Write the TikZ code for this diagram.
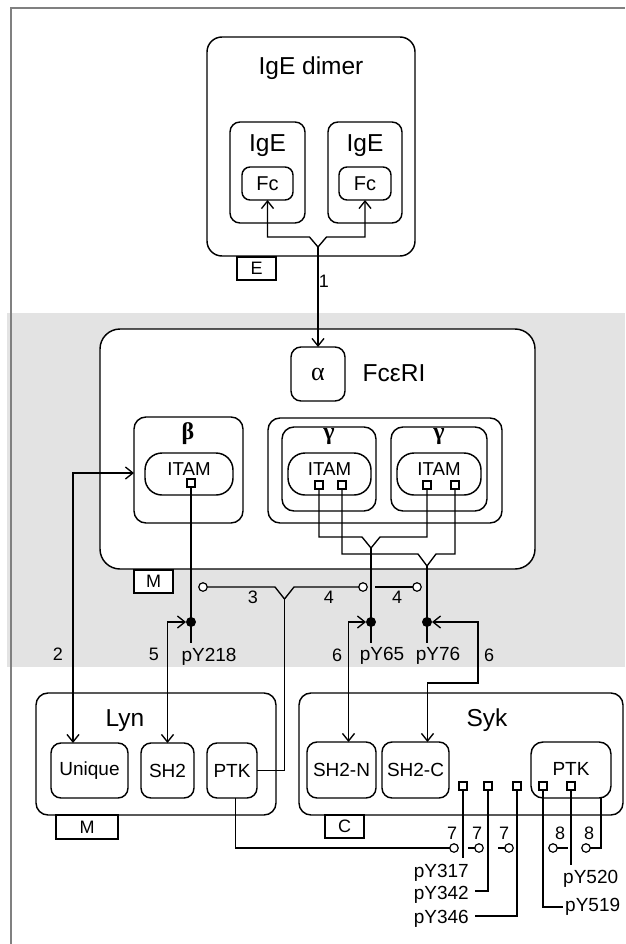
\documentclass[tikz,border=0pt]{standalone}
\usepackage{fontspec}
\setmainfont{Liberation Sans}
\newfontfamily\serifgr{Liberation Serif}
\usetikzlibrary{arrows.meta}
\newcommand\fs[1]{\fontsize{#1}{#1}\selectfont}
\newcommand\bx[7]{\node[box, rounded corners=#6, minimum width={#4pt-#2pt}, minimum height={#5pt-#3pt}] (#1) at ({(#2+#4)/2},{(#3+#5)/2}) {#7};}
\begin{document}
\begin{tikzpicture}[x=1pt,y=-1pt,
  box/.style={draw, line width=1.45pt, fill=white, inner sep=0pt, outer sep=0pt, font=\fs{19}},
  tag/.style={draw, line width=1.3pt, fill=white, inner sep=0pt, outer sep=0pt, font=\fs{18}},
  site/.style={draw, line width=1.2pt, fill=white, inner sep=0pt, outer sep=0pt, minimum size=8pt},
  ring/.style={circle, draw, line width=1.2pt, fill=white, inner sep=0pt, outer sep=0pt, minimum size=8.5pt},
  dot/.style={circle, fill=black, inner sep=0pt, outer sep=0pt, minimum size=10pt},
  wire/.style={line width=1.35pt},
  arr/.style={wire, -{Straight Barb[length=7.5pt,width=12pt]}},
  darr/.style={wire, {Straight Barb[length=7.5pt,width=12pt]}-{Straight Barb[length=7.5pt,width=12pt]}},
  lbl/.style={inner sep=0pt, font=\fs{19}, anchor=base},
  num/.style={inner sep=0pt, font=\fs{18}, anchor=base},
  ttl/.style={inner sep=0pt, font=\fs{24.5}, anchor=base},
  grk/.style={inner sep=0pt, font=\serifgr\bfseries\fs{24}, anchor=base},
  itam/.style={inner sep=0pt, font=\fs{18.7}, anchor=base},
  fcbox/.style={box, font=\fs{20}},
]
\useasboundingbox (0,0) rectangle (625,944);
\fill[black!11] (7,313) rectangle (625,667);
\draw[line width=2pt, black!50] (11,944) -- (11,7.7) -- (625,7.7);

% IgE dimer
\bx{dimer}{207}{37}{415}{256}{15pt}{}
\node[ttl] (tdimer) at (311,75) {IgE dimer};
\bx{igeL}{230}{122}{305}{223}{10pt}{}
\bx{igeR}{328}{122}{402}{223}{10pt}{}
\node[ttl] (tigeL) at (267.5,152) {IgE};
\node[ttl] (tigeR) at (365,152) {IgE};
\node[fcbox, rounded corners=8pt, minimum width=51pt, minimum height=33pt] (fcL) at (267.5,183.5) {Fc};
\node[fcbox, rounded corners=8pt, minimum width=52pt, minimum height=33pt] (fcR) at (365,183.5) {Fc};
\node[tag, minimum width=39pt, minimum height=23pt] (tagE) at (256.5,268.5) {E};

% FceRI
\bx{fce}{100}{329}{535}{569}{20pt}{}
\bx{alpha}{291}{347}{345}{401}{10pt}{}
\node[inner sep=0pt, anchor=base, font=\serifgr\fs{26}] (talpha) at (318,380) {α};
\node[ttl] (tfce) at (394,381) {FcεRI};
\bx{beta}{134}{417}{243}{523}{12pt}{}
\node[grk] (tbeta) at (188,439) {β};
\bx{bitam}{145}{453}{233}{495}{17pt}{}
\node[itam] (tbitam) at (189,475) {ITAM};
\node[site] (b1) at (191,483) {};
\bx{gam}{268}{418}{502}{523}{12pt}{}
\bx{gamA}{282}{427}{376}{511}{12pt}{}
\bx{gamB}{391}{427}{487}{511}{12pt}{}
\node[grk] (tgA) at (329,439) {γ};
\node[grk] (tgB) at (439,439) {γ};
\bx{gitamA}{288}{453}{371}{495}{17pt}{}
\bx{gitamB}{397}{453}{481}{495}{17pt}{}
\node[itam] (tgitamA) at (329.5,475) {ITAM};
\node[itam] (tgitamB) at (439,475) {ITAM};
\node[site] (g1a) at (319,485) {};
\node[site] (g1b) at (342,485) {};
\node[site] (g2a) at (427,485) {};
\node[site] (g2b) at (455,485) {};
\node[tag, minimum width=39pt, minimum height=23pt] (tagM1) at (153.5,581.5) {M};

% phospho sites and rings
\node[dot] (d218) at (191,622) {};
\node[dot] (d65) at (371,622) {};
\node[dot] (d76) at (427,622) {};
\node[ring] (r3) at (203,587) {};
\node[ring] (r4a) at (363,587) {};
\node[ring] (r4b) at (417,587) {};

% Lyn
\bx{lyn}{36}{693}{276}{815}{12pt}{}
\node[ttl] (tlyn) at (125,726) {Lyn};
\bx{uniq}{51}{743}{128}{798}{10pt}{Unique}
\bx{lsh2}{141}{743}{194}{798}{10pt}{SH2}
\bx{lptk}{207}{743}{257}{798}{10pt}{PTK}
\node[tag, minimum width=62pt, minimum height=24pt] (tagM2) at (87,827) {M};

% Syk
\bx{syk}{299}{693}{623}{815}{12pt}{}
\node[ttl] (tsyk) at (487,726) {Syk};
\bx{sh2n}{307}{742}{376}{798}{10pt}{SH2-N}
\bx{sh2c}{382}{742}{449}{798}{10pt}{SH2-C}
\bx{sptk}{531}{742}{611}{798}{12pt}{}
\node[inner sep=0pt, font=\fs{19}, anchor=base] (tsptk) at (571,775) {PTK};
\node[site] (q317) at (463,786) {};
\node[site] (q342) at (488,786) {};
\node[site] (q346) at (517,786) {};
\node[site] (q519) at (543,786) {};
\node[site] (q520) at (571,786) {};
\node[tag, minimum width=39pt, minimum height=23pt] (tagC) at (344.5,826.5) {C};
\node[ring] (r7a) at (454,848) {};
\node[ring] (r7b) at (479,848) {};
\node[ring] (r7c) at (509,848) {};
\node[ring] (r8a) at (553,848) {};
\node[ring] (r8b) at (586,848) {};

% connectors
\coordinate (j1) at (318,247);
\draw[arr] (j1) -- (alpha.north);
\draw[arr] (j1) -- ([shift={(-8.5,-10)}]j1) -| (fcL.south);
\draw[arr] (j1) -- ([shift={(8.5,-10)}]j1) -| (fcR.south);

\coordinate (j2) at (371,548);
\coordinate (j3) at (427,566);
\draw[wire] (g1a.south) |- ([shift={(-9,-11)}]j2) -- (j2) -- ([shift={(9,-11)}]j2) -| (g2a.south);
\draw[wire] (g1b.south) |- ([shift={(-9,-12)}]j3) -- (j3) -- ([shift={(9,-12)}]j3) -| (g2b.south);
\coordinate (e218) at (191,643);
\coordinate (e65) at (371,643);
\coordinate (e76) at (427,643);
\draw[wire] (b1.south) -- (e218);
\draw[wire] (j2) -- (e65);
\draw[wire] (j3) -- (e76);

\coordinate (j4) at (284.5,599);
\coordinate (s4) at (375,587);
\draw[wire] (r3.east) -- ([shift={(-9.5,-12)}]j4) -- (j4) -- ([shift={(9.5,-12)}]j4) -- (r4a.west);
\draw[wire] (s4) -- (r4b.west);
\draw[wire] (j4) |- (lptk.east);

\draw[darr] ([yshift=-3pt]beta.west) -| ([xshift=-16.5pt]uniq.north);
\draw[darr] (lsh2.north) |- (d218.west);
\draw[darr] ([xshift=7pt]sh2n.north) |- (d65.west);
\coordinate (k6) at (478,683);
\draw[darr] ([xshift=12pt]sh2c.north) |- (k6) |- (d76.east);

\draw[wire] ([xshift=3.5pt]lptk.south) |- (r7a.west);
\coordinate (k7b) at (468,848);
\coordinate (k7c) at (498,848);
\coordinate (k8a) at (568,848);
\coordinate (k8b) at (601,848);
\draw[wire] (k7b) -- (r7b.west);
\draw[wire] (k7c) -- (r7c.west);
\draw[wire] (r8a.east) -- (k8a);
\draw[wire] (r8b.east) -- (k8b) -- (k8b |- sptk.south);

\coordinate (e317) at (463,858);
\coordinate (e342) at (475,891);
\coordinate (e346) at (475,916);
\coordinate (e519) at (563,907);
\coordinate (e520) at (571,865);
\draw[wire] (q317.south) -- (e317);
\draw[wire] (q342.south) |- (e342);
\draw[wire] (q346.south) |- (e346);
\draw[wire] (q519.south) |- (e519);
\draw[wire] (q520.south) -- (e520);

% labels
\node[num] (n1) at (324,287) {1};
\node[num] (n2) at (58,660) {2};
\node[num] (n3) at (253,603) {3};
\node[num] (n4a) at (329,603) {4};
\node[num] (n4b) at (397,603) {4};
\node[num] (n5) at (154,660) {5};
\node[num] (n6a) at (337,661) {6};
\node[num] (n6b) at (489,661) {6};
\node[lbl] (p218) at (209,661) {pY218};
\node[lbl] (p65) at (382,660) {pY65};
\node[lbl] (p76) at (438,660) {pY76};
\node[num] (n7a) at (452,839) {7};
\node[num] (n7b) at (477,839) {7};
\node[num] (n7c) at (504,839) {7};
\node[num] (n8a) at (560,839) {8};
\node[num] (n8b) at (589,839) {8};
\node[lbl, anchor=base east] (p317) at (469,877) {pY317};
\node[lbl, anchor=base east] (p342) at (469,899) {pY342};
\node[lbl, anchor=base east] (p346) at (469,923) {pY346};
\node[lbl, anchor=base west] (p520) at (563,883) {pY520};
\node[lbl, anchor=base west] (p519) at (565,911) {pY519};
\end{tikzpicture}
\end{document}
